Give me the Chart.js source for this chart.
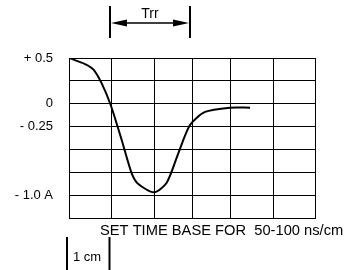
<!DOCTYPE html>
<html><head><meta charset="utf-8">
<script src="https://cdn.jsdelivr.net/npm/chart.js@4"></script>
<style>html,body{margin:0;padding:0;background:#fff}#wrap{width:346px;height:270px}</style>
</head><body><div id="wrap"><canvas id="c" width="346" height="270"></canvas></div>
<script>
// x in arbitrary time units along the screen, y in amperes
const timeUnits = [0, 16, 24.3, 32.7, 41.7, 52.7, 62.7, 69.3, 85, 97.7, 109.3, 121, 136, 161, 181];
const current = [0.5, 0.434, 0.376, 0.223, -0.014, -0.397, -0.761, -0.878, -0.969, -0.864, -0.542, -0.233, -0.090, -0.043, -0.043];
const xGrid = [0, 42, 85, 123, 161, 204, 246];
const yLabels = {"50": "+ 0.5", "0": "0", "-25": "- 0.25", "-100": "- 1.0 A"};
const trrMarks = [41, 121];
const cmMarks = [-2, 40.5];
const trrText = "Trr";
const baseText = "SET TIME BASE FOR  50-100 ns/cm";
const cmText = "1 cm";

const FONT = '"Liberation Sans", Arial, sans-serif';

const annot = {
  id: 'annot',
  afterDraw(chart) {
    const ctx = chart.ctx, xs = chart.scales.x;
    ctx.save();
    ctx.strokeStyle = '#000'; ctx.fillStyle = '#000';
    // Trr
    const a = xs.getPixelForValue(trrMarks[0]), b = xs.getPixelForValue(trrMarks[1]);
    ctx.lineWidth = 2;
    ctx.beginPath();
    ctx.moveTo(a, 6); ctx.lineTo(a, 38);
    ctx.moveTo(b, 6); ctx.lineTo(b, 38);
    ctx.stroke();
    ctx.lineWidth = 1.5;
    ctx.beginPath(); ctx.moveTo(a + 10, 23); ctx.lineTo(b - 10, 23); ctx.stroke();
    ctx.beginPath();
    ctx.moveTo(a + 1, 23); ctx.lineTo(a + 17, 19.5); ctx.lineTo(a + 17, 26.5); ctx.closePath(); ctx.fill();
    ctx.beginPath();
    ctx.moveTo(b - 1, 23); ctx.lineTo(b - 17, 19.5); ctx.lineTo(b - 17, 26.5); ctx.closePath(); ctx.fill();
    ctx.font = '14px ' + FONT;
    ctx.textAlign = 'center'; ctx.textBaseline = 'middle';
    ctx.fillText(trrText, (a + b) / 2, 14);
    // time base
    ctx.textAlign = 'left';
    ctx.font = '14.7px ' + FONT;
    ctx.fillText(baseText, 100, 231);
    // 1 cm
    const c = xs.getPixelForValue(cmMarks[0]), d = xs.getPixelForValue(cmMarks[1]);
    ctx.lineWidth = 2;
    ctx.beginPath();
    ctx.moveTo(c, 237); ctx.lineTo(c, 270);
    ctx.moveTo(d, 237); ctx.lineTo(d, 270);
    ctx.stroke();
    ctx.font = '13px ' + FONT;
    ctx.fillText(cmText, c + 6, 257);
    ctx.restore();
  }
};

new Chart(document.getElementById('c'), {
  type: 'line',
  data: {
    datasets: [{
      data: timeUnits.map((x, i) => ({x, y: current[i]})),
      borderColor: '#000', borderWidth: 2, pointRadius: 0, tension: 0.25, fill: false
    }]
  },
  options: {
    responsive: false, animation: false, devicePixelRatio: 1,
    layout: {padding: {left: 0, top: 58, right: 31, bottom: 52}},
    plugins: {legend: {display: false}, tooltip: {enabled: false}},
    scales: {
      x: {
        type: 'linear', min: 0, max: 246,
        afterBuildTicks: s => { s.ticks = xGrid.map(v => ({value: v})); },
        afterFit: s => { s.height = 0; },
        ticks: {display: false},
        grid: {color: '#000', lineWidth: 1, drawTicks: false},
        border: {color: '#000', width: 1}
      },
      y: {
        min: -1.25, max: 0.5,
        afterFit: s => { s.width = 69; },
        ticks: {
          stepSize: 0.25, padding: 16, color: '#000',
          font: {family: FONT, size: 13},
          callback: v => yLabels[String(Math.round(v * 100))] || ''
        },
        grid: {color: '#000', lineWidth: 1, drawTicks: false},
        border: {color: '#000', width: 1}
      }
    }
  },
  plugins: [annot]
});
</script></body></html>
